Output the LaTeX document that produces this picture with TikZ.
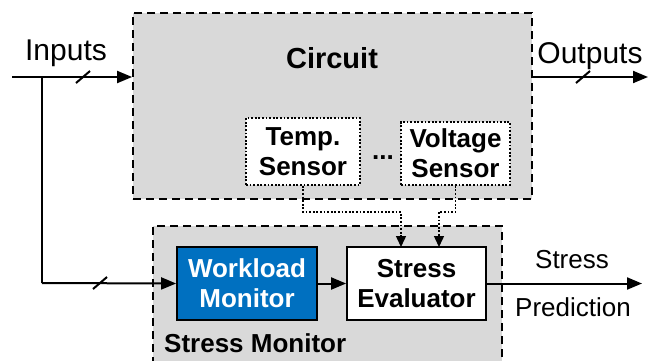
\documentclass[tikz,border=0pt]{standalone}
\usepackage{fontspec}
\setmainfont{Liberation Sans}
\usetikzlibrary{arrows.meta}
\definecolor{panelgray}{HTML}{D9D9D9}
\definecolor{wlblue}{HTML}{0070C0}
\tikzset{
  panel/.style={draw, line width=1.8pt, dash pattern=on 8pt off 5pt, fill=panelgray,
    inner sep=0pt, minimum width=#1},
  block/.style={draw, line width=1.8pt, fill=white, inner sep=0pt, align=center,
    font=\fontsize{26}{30}\selectfont\bfseries},
  sensor/.style={draw, line width=1.5pt, dash pattern=on 1.8pt off 1.8pt, fill=white,
    inner sep=0pt, align=center, font=\fontsize{26}{30}\selectfont\bfseries},
  wire/.style={line width=2pt, -{Triangle[length=15pt,width=12pt]}},
  plainwire/.style={line width=2pt},
  probe/.style={line width=1.4pt, dash pattern=on 1.8pt off 1.8pt,
    -{Triangle[length=11pt,width=10pt]}},
  bus/.style={line width=2pt},
  biglabel/.style={font=\fontsize{30}{34}\selectfont, anchor=base, inner sep=0pt},
  midlabel/.style={font=\fontsize{26}{30}\selectfont, anchor=base, inner sep=0pt},
}
\begin{document}
\begin{tikzpicture}[x=1pt, y=-1pt]
\useasboundingbox (0,0) rectangle (648,360);
\begin{scope}
\clip (0,0) rectangle (648,360);

% enclosing panels
\node[panel=399pt, minimum height=186pt] (circuit) at (332.5,106) {};
\node[panel=349pt, minimum height=146pt] (monitor) at (327.5,299) {};

% panel titles
\node[biglabel, font=\fontsize{29}{34}\selectfont\bfseries] (circuittitle) at (332,68) {Circuit};
\node[midlabel, font=\fontsize{26}{30}\selectfont\bfseries, anchor=base west] (monitortitle) at (164,352) {Stress Monitor};

% sensors inside the circuit
\node[sensor, minimum width=114pt, minimum height=67pt] (temp) at (303,151.5) {Temp.\\Sensor};
\node[sensor, minimum width=109pt, minimum height=63pt] (volt) at (455.5,153.5) {Voltage\\Sensor};
\node[midlabel, font=\fontsize{26}{30}\selectfont\bfseries] (dots) at (383,159) {...};

% stress monitor blocks
\node[block, fill=wlblue, text=white, minimum width=140pt, minimum height=73pt] (workload) at (247,283.5) {Workload\\Monitor};
\node[block, minimum width=139pt, minimum height=73pt] (eval) at (416.5,283.5) {Stress\\Evaluator};

% external labels
\node[biglabel] (inlabel) at (66,60) {Inputs};
\node[biglabel] (outlabel) at (590,63) {Outputs};
\node[midlabel] (stresslabel) at (572,268) {Stress};
\node[midlabel] (predlabel) at (573,316) {Prediction};

% wiring
\coordinate (instart) at (12,77);
\coordinate (branch) at (42,77);
\coordinate (corner) at (42,283);
\coordinate (outend) at (648,77);
\coordinate (predend) at (642,283.5);

\draw[wire] (instart) -- (instart -| circuit.west);
\draw[plainwire] (branch) -- (corner);
\draw[wire] (corner) -- (workload.west);
\draw[wire] (circuit.east |- outend) -- (outend);
\draw[wire] (workload) -- (eval);
\draw[wire] (eval) -- (predend);

% bus slashes
\coordinate (s1) at (83,77);
\coordinate (s2) at (100,283);
\coordinate (s3) at (583,77);
\foreach \s in {s1,s2,s3}
  \draw[bus] ([shift={(-7pt,-6pt)}]\s) -- ([shift={(7pt,6pt)}]\s);

% sensor readings into the evaluator
\draw[probe] (temp.south) |- (401,212) -- (401,247);
\draw[probe] (volt.south) |- (439,212) -- (439,247);
\end{scope}
\end{tikzpicture}
\end{document}
